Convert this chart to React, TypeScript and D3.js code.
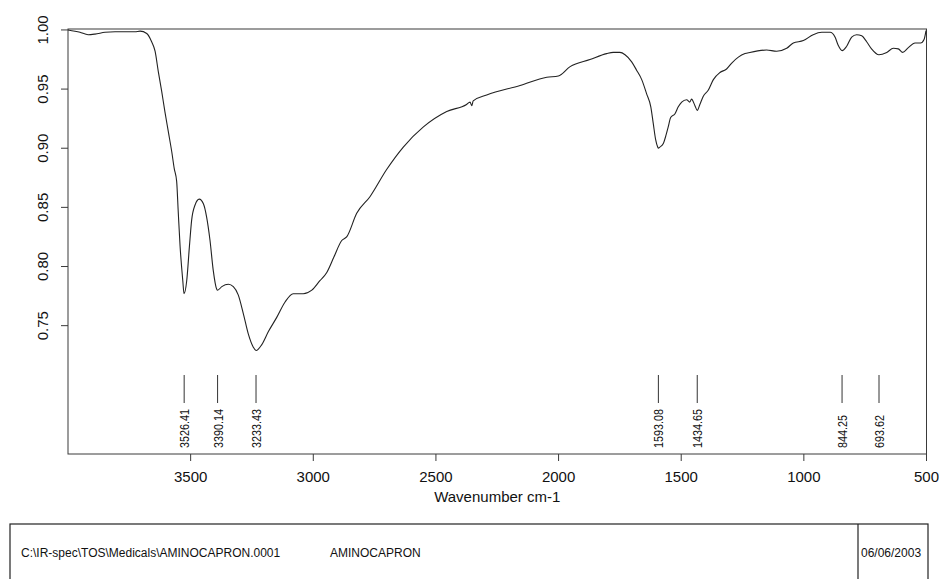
import React from "react";
import * as d3 from "d3";

// IR spectrum of aminocaproic acid: wavenumber (cm-1) and transmittance
const wavenumbers = [
  4000, 3951, 3918, 3890, 3849, 3808, 3768, 3727, 3706, 3679, 3659, 3645, 3632, 3618,
  3605, 3591, 3577, 3567, 3557, 3551, 3543, 3532, 3527, 3516, 3505, 3496, 3482, 3465,
  3448, 3435, 3421, 3408, 3394, 3390, 3373, 3346, 3326, 3306, 3285, 3265, 3245, 3233,
  3210, 3183, 3149, 3115, 3082, 3041, 3006, 2973, 2945, 2916, 2884, 2864, 2823, 2769,
  2701, 2633, 2551, 2456, 2375, 2361, 2354, 2348, 2293, 2157, 2048, 2001, 1953, 1872,
  1804, 1777, 1750, 1729, 1702, 1682, 1661, 1641, 1624, 1614, 1604, 1596, 1593, 1587,
  1573, 1562, 1553, 1543, 1526, 1512, 1498, 1478, 1465, 1458, 1444, 1434.6, 1424, 1410,
  1390, 1369, 1342, 1315, 1294, 1267, 1240, 1220, 1152, 1111, 1070, 1043, 1002, 962,
  927, 893, 873, 860, 844, 826, 805, 785, 764, 744, 724, 694, 662, 635, 615, 597, 574,
  547, 524, 510, 502,
];
const transmittance = [
  1.0, 0.998, 0.996, 0.9965, 0.998, 0.9985, 0.9985, 0.9985, 0.999, 0.997, 0.99, 0.982,
  0.965, 0.948, 0.931, 0.914, 0.897, 0.883, 0.872, 0.848, 0.817, 0.788, 0.777, 0.788,
  0.817, 0.839, 0.852, 0.857, 0.853, 0.842, 0.822, 0.797, 0.781, 0.78, 0.783, 0.785,
  0.783, 0.776, 0.76, 0.743, 0.732, 0.729, 0.734, 0.745, 0.757, 0.77, 0.777, 0.777,
  0.78, 0.788, 0.795, 0.808, 0.822, 0.825, 0.845, 0.859, 0.882, 0.901, 0.918, 0.931,
  0.937, 0.939, 0.936, 0.94, 0.945, 0.953, 0.96, 0.961, 0.969, 0.975, 0.98, 0.981, 0.981,
  0.979, 0.973, 0.966, 0.958, 0.946, 0.935, 0.921, 0.907, 0.901, 0.9, 0.901, 0.904,
  0.911, 0.918, 0.926, 0.929, 0.935, 0.939, 0.941, 0.939, 0.9415, 0.936, 0.932, 0.937,
  0.944, 0.949, 0.958, 0.964, 0.967, 0.972, 0.977, 0.98, 0.981, 0.983, 0.982, 0.9845,
  0.989, 0.991, 0.996, 0.998, 0.998, 0.994, 0.987, 0.9825, 0.986, 0.994, 0.996, 0.995,
  0.99, 0.984, 0.979, 0.981, 0.9845, 0.984, 0.981, 0.985, 0.989, 0.989, 0.992, 0.9995,
];

// Picked peaks (cm-1) with their printed labels
const peakPositions = [3526.41, 3390.14, 3233.43, 1593.08, 1434.65, 844.25, 693.62];
const peakLabels = ["3526.41", "3390.14", "3233.43", "1593.08", "1434.65", "844.25", "693.62"];

const xTicks = [3500, 3000, 2500, 2000, 1500, 1000, 500];
const yTicks = [0.75, 0.8, 0.85, 0.9, 0.95, 1.0];

const xTitle = "Wavenumber cm-1";
const filePath = "C:\\IR-spec\\TOS\\Medicals\\AMINOCAPRON.0001";
const sampleName = "AMINOCAPRON";
const recordDate = "06/06/2003";

const W = 939;
const H = 579;
const FONT = "'Liberation Sans', Arial, Helvetica, sans-serif";

export default function App() {
  const left = 68;
  const right = 926.5;
  const top = 29;
  const bottom = 454;

  const x = d3.scaleLinear().domain([4000, 500]).range([left, right]);
  const y = d3.scaleLinear().domain([0.6415, 1.0008]).range([bottom, top]);

  const points: [number, number][] = wavenumbers.map((w, i) => [w, transmittance[i]]);
  const line = d3
    .line<[number, number]>()
    .x((d) => x(d[0]))
    .y((d) => y(d[1]))
    .curve(d3.curveMonotoneX);

  const axisColor = "#3a3a3a";

  return (
    <svg
      width={W}
      height={H}
      viewBox={`0 0 ${W} ${H}`}
      style={{ position: "absolute", left: 0, top: 0, background: "#fff" }}
      fontFamily={FONT}
    >
      <rect x={0} y={0} width={W} height={H} fill="#fff" />

      {/* plot frame */}
      <rect
        x={left}
        y={top}
        width={right - left}
        height={bottom - top}
        fill="none"
        stroke={axisColor}
        strokeWidth={1}
      />

      {/* y axis */}
      {yTicks.map((t) => (
        <g key={`y${t}`}>
          <line x1={left - 7} x2={left} y1={y(t)} y2={y(t)} stroke={axisColor} />
          <text
            transform={`translate(${left - 20},${y(t)}) rotate(-90)`}
            textAnchor="middle"
            fontSize={15}
            fill="#111"
          >
            {t.toFixed(2)}
          </text>
        </g>
      ))}

      {/* x axis */}
      {xTicks.map((t) => (
        <g key={`x${t}`}>
          <line x1={x(t)} x2={x(t)} y1={bottom} y2={bottom + 7} stroke={axisColor} />
          <text x={x(t)} y={bottom + 28} textAnchor="middle" fontSize={15} fill="#111">
            {t}
          </text>
        </g>
      ))}
      <text x={(left + right) / 2} y={bottom + 48} textAnchor="middle" fontSize={15} fill="#111">
        {xTitle}
      </text>

      {/* spectrum */}
      <path d={line(points) ?? ""} fill="none" stroke="#222" strokeWidth={1.1} />

      {/* peak markers */}
      {peakPositions.map((p, i) => {
        const px = x(p);
        const label = peakLabels[i];
        const dots = (label.match(/\./g) || []).length;
        const len = (label.length - dots) * 6 + dots * 3;
        return (
          <g key={`p${i}`}>
            <line x1={px} x2={px} y1={375} y2={403} stroke="#333" strokeWidth={1} />
            <text
              transform={`translate(${px + 5},448) rotate(-90)`}
              fontSize={13}
              textLength={len}
              lengthAdjust="spacingAndGlyphs"
              fill="#111"
            >
              {label}
            </text>
          </g>
        );
      })}

      {/* info box */}
      <rect x={10} y={524} width={918} height={70} fill="none" stroke="#222" strokeWidth={1.2} />
      <line x1={858} x2={858} y1={524} y2={H} stroke="#222" strokeWidth={1.2} />
      <text x={21} y={557} fontSize={12} fill="#111">
        {filePath}
      </text>
      <text x={330} y={557} fontSize={12} fill="#111">
        {sampleName}
      </text>
      <text x={861} y={557} fontSize={12} fill="#111">
        {recordDate}
      </text>
    </svg>
  );
}
